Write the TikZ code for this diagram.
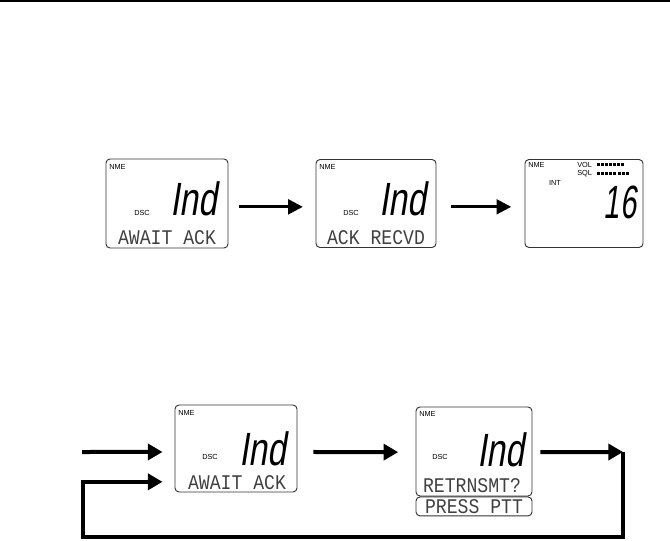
\documentclass[tikz,border=0pt]{standalone}
\usepackage{fontspec}
\setmainfont{Liberation Sans}
\newfontfamily\lcdfont{Liberation Mono}
\newfontfamily\segfont[FakeSlant=0.22]{Liberation Sans}
\usepackage{tikz}
\usetikzlibrary{arrows.meta, positioning, calc}

\tikzset{
  lcd/.style={draw=black!80, line width=0.7pt, rounded corners=3pt, rectangle, inner sep=0pt},
  tag/.style={inner sep=0pt, font=\fontsize{5.5}{6}\selectfont},
  seg/.style={inner sep=0pt, font=\segfont\fontsize{35}{37}\selectfont},
  dots/.style={inner sep=0pt, text=black!75, font=\lcdfont\fontsize{13.6}{15}\selectfont},
  flow/.style={line width=2pt, -{Triangle[length=11pt, width=11pt]}},
  loopflow/.style={line width=3pt, -{Triangle[length=11pt, width=12pt]}}
}

\begin{document}
\begin{tikzpicture}[x=0.75pt, y=-0.75pt]
\useasboundingbox (0,0) rectangle (670,541);
\draw[line width=0.9pt] (0,1) -- (670,1);

% Row 1: waiting for the acknowledgement
\node[lcd, minimum width=91.5pt, minimum height=66.75pt] (await1) at (167,203.5) {};
\node[tag, anchor=west] at (109,167) {NME};
\node[tag] at (142,213) {DSC};
\node[seg] at (194,199) {\scalebox{0.72}[1]{Ind}};
\node[dots] at (167,238) {\scalebox{1}[1.15]{AWAIT ACK}};

\node[lcd, minimum width=90pt, minimum height=66pt] (recvd) at (376,203.5) {};
\node[tag, anchor=west] at (319,167) {NME};
\node[tag] at (351,213) {DSC};
\node[seg] at (403,199) {\scalebox{0.72}[1]{Ind}};
\node[dots] at (376,238) {\scalebox{1}[1.15]{ACK RECVD}};

\node[lcd, minimum width=88.5pt, minimum height=66pt] (chan) at (584,203.5) {};
\node[tag, anchor=west] at (528,165) {NME};
\node[tag, anchor=west] at (577,165) {VOL};
\node[tag, anchor=west] at (577,174) {SQL};
\node[tag] at (555,183) {INT};
\foreach \i in {0,...,6} \fill (597+\i*4,163.5) rectangle ++(3,3);
\foreach \i in {0,...,7} \fill (597+\i*4.1,172.5) rectangle ++(3,3);
\node[seg] at (620,202) {\scalebox{0.62}[1]{16}};

\draw[flow, shorten <=8pt, shorten >=9.5pt] ([yshift=-2.5pt]await1.east) -- ([yshift=-2.5pt]recvd.west);
\draw[flow, shorten <=11pt, shorten >=10pt] ([yshift=-2.5pt]recvd.east) -- ([yshift=-2.5pt]chan.west);

% Row 2: no acknowledgement, retransmit
\node[lcd, minimum width=91.5pt, minimum height=65.25pt] (await2) at (236,448.5) {};
\node[tag, anchor=west] at (178,413) {NME};
\node[tag] at (210,457) {DSC};
\node[seg] at (263,449) {\scalebox{0.72}[1]{Ind}};
\node[dots] at (237,483) {\scalebox{1}[1.15]{AWAIT ACK}};

\node[lcd, minimum width=87pt, minimum height=66.75pt] (retx) at (474,451.5) {};
\node[lcd, minimum width=87pt, minimum height=14.25pt, below=0pt of retx] (ptt) {};
\node[tag, anchor=west] at (419,414) {NME};
\node[tag] at (440,457) {DSC};
\node[seg] at (501,450) {\scalebox{0.72}[1]{Ind}};
\node[dots] at (472,486) {\scalebox{1}[1.15]{RETRNSMT?}};
\node[dots] at (ptt) {\scalebox{1}[1.15]{PRESS PTT}};

\coordinate (start) at (82,452);
\coordinate (turn) at (623,452);
\coordinate (back) at (83,537);

\draw[loopflow, shorten >=9pt] (start) -- ([yshift=-2.6pt]await2.west);
\draw[loopflow, shorten <=12pt, shorten >=13pt] ([yshift=-2.6pt]await2.east) -- ([yshift=-0.5pt]retx.west);
\draw[loopflow, shorten <=6pt] ([yshift=-0.5pt]retx.east) -- (turn);
\draw[loopflow, shorten >=9pt] (turn) -- (turn |- back) -- (back) |- ([yshift=-25pt]await2.west);
\end{tikzpicture}
\end{document}
